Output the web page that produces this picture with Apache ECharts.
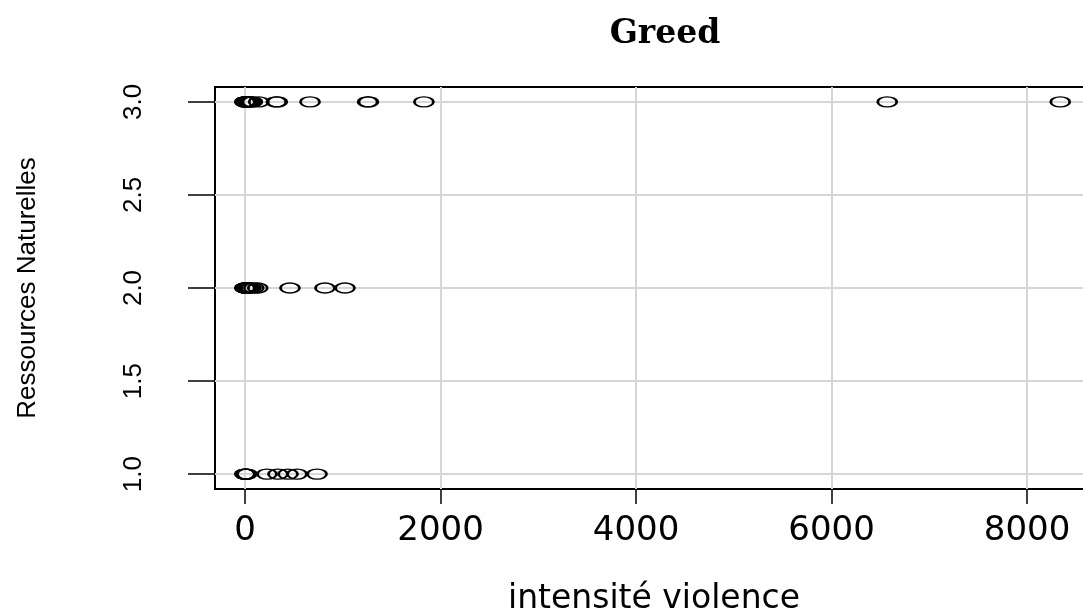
<!DOCTYPE html>
<html>
<head>
<meta charset="utf-8">
<script src="https://cdn.jsdelivr.net/npm/echarts@6/dist/echarts.min.js"></script>
<style>html,body{margin:0;padding:0;background:#fff}#c{width:1083px;height:610px}</style>
</head>
<body>
<div id="c"></div>
<script>
// Data
const title = "Greed";
const xName = "intensité violence";
const yName = "Ressources Naturelles";
const xTicks = [0, 2000, 4000, 6000, 8000];
const yTicks = [1.0, 1.5, 2.0, 2.5, 3.0];
const levels = [1, 2, 3];
const level3 = [0, 0, 3, 5, 8, 12, 18, 25, 35, 50, 65, 75, 140, 320, 330, 665, 1255, 1262, 1830, 6570, 8340];
const level2 = [0, 0, 2, 5, 10, 20, 40, 60, 90, 130, 460, 818, 1023];
const level1 = [0, 0, 5, 10, 20, 225, 337, 440, 532, 737];

const groups = [level1, level2, level3];
const points = [];
groups.forEach((arr, i) => arr.forEach(v => points.push([v, levels[i]])));

const chart = echarts.init(document.getElementById('c'), null, {renderer: 'canvas'});
const axisFont = 'Liberation Sans, Arial, sans-serif';
const wideFont = 'DejaVu Sans, sans-serif';
chart.setOption({
  animation: false,
  backgroundColor: '#fff',
  title: {
    text: title, left: 660, top: 13, textAlign: 'center',
    textStyle: {fontFamily: 'DejaVu Serif, serif', fontWeight: 'bold', fontSize: 33, color: '#000'}
  },
  grid: {left: 215, top: 87, bottom: 121, right: -10, show: true, borderColor: '#000', borderWidth: 2,
    backgroundColor: 'transparent', outerBoundsMode: 'none', containLabel: false},
  xAxis: {
    type: 'value', min: -307, max: 8675,
    name: xName, nameLocation: 'middle', nameGap: 94,
    nameTextStyle: {fontFamily: wideFont, fontSize: 33, color: '#000'},
    axisLine: {show: false, onZero: false},
    axisTick: {show: true, length: 15, customValues: xTicks, lineStyle: {color: '#000', width: 1.5}},
    axisLabel: {customValues: xTicks, margin: 25, fontFamily: wideFont, fontSize: 34, color: '#000',
      formatter: v => String(v)},
    splitLine: {show: true, lineStyle: {color: '#d6d6d6', width: 2}}
  },
  yAxis: {
    type: 'value', min: 0.92, max: 3.08,
    name: yName, nameLocation: 'middle', nameGap: 174, nameRotate: 90,
    nameTextStyle: {fontFamily: axisFont, fontSize: 26, color: '#000'},
    axisLine: {show: false, onZero: false},
    axisTick: {show: true, length: 27, customValues: yTicks, lineStyle: {color: '#000', width: 1.5}},
    axisLabel: {customValues: yTicks, rotate: 90, margin: 68, fontFamily: axisFont, fontSize: 26, color: '#000',
      formatter: v => v.toFixed(1)},
    splitLine: {show: true, lineStyle: {color: '#d6d6d6', width: 2}}
  },
  series: [{
    type: 'scatter',
    data: points,
    symbol: 'circle',
    symbolSize: [19, 10],
    itemStyle: {color: 'rgba(0,0,0,0)', borderColor: '#000', borderWidth: 2, opacity: 1},
    emphasis: {disabled: true}
  }]
});
</script>
</body>
</html>
